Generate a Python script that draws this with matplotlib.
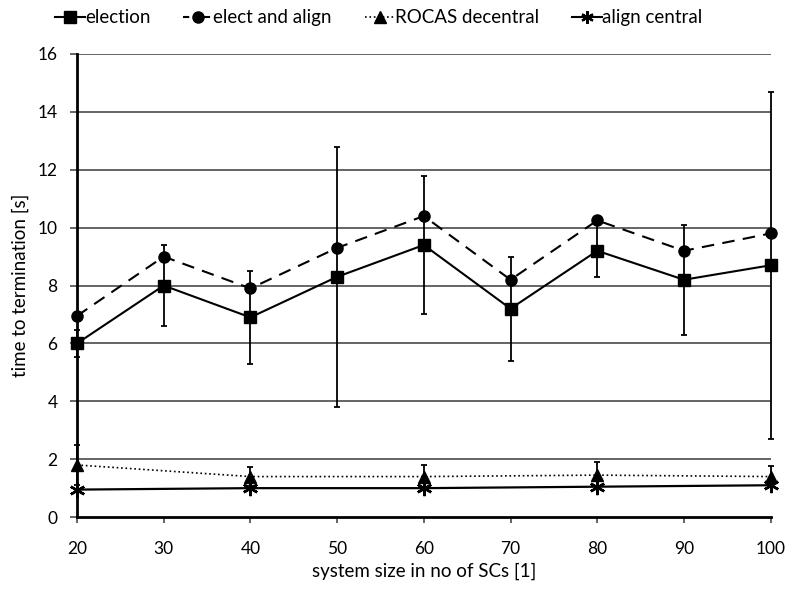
import matplotlib
matplotlib.use("Agg")
import matplotlib.pyplot as plt
from matplotlib.lines import Line2D

plt.rcParams['font.family'] = ['Lato', 'DejaVu Sans']

# system sizes
sizes = [20, 30, 40, 50, 60, 70, 80, 90, 100]
sizes_even = [20, 40, 60, 80, 100]

# mean time to termination [s]
election = [6.0, 8.0, 6.9, 8.3, 9.4, 7.2, 9.2, 8.2, 8.7]
election_err = [0.47, 1.4, 1.6, 4.5, 2.4, 1.8, 0.9, 1.9, 6.0]

elect_align = [6.95, 9.0, 7.9, 9.3, 10.4, 8.2, 10.25, 9.2, 9.8]

rocas_decentral = [1.8, 1.4, 1.4, 1.45, 1.4]
rocas_err = [0.68, 0.33, 0.39, 0.46, 0.37]

align_central = [0.95, 1.0, 1.0, 1.05, 1.1]

fig = plt.figure(figsize=(7.88, 5.93), dpi=100)
ax = fig.add_axes([0.0977, 0.128, 0.8803, 0.781])

ax.set_xlim(20, 100)
ax.set_ylim(0, 16)
ax.set_yticks(range(0, 17, 2))
ax.set_xticks(sizes)

for y in range(2, 17, 2):
    ax.axhline(y, color='#3a3a3a', lw=1.1, zorder=0.5)

lk = dict(color='black', clip_on=False)
ax.errorbar(sizes, election, yerr=election_err, fmt='none', ecolor='black',
            elinewidth=1.3, capsize=2, capthick=1.3, zorder=3, clip_on=False)
ax.errorbar(sizes_even, rocas_decentral, yerr=rocas_err, fmt='none', ecolor='black',
            elinewidth=1.3, capsize=2, capthick=1.3, zorder=3, clip_on=False)

ax.plot(sizes, election, '-', marker='s', ms=9, lw=1.5, zorder=4, **lk)
ax.plot(sizes, elect_align, '--', marker='o', ms=8, lw=1.5, dashes=(6, 4), zorder=4, **lk)
ax.plot(sizes_even, rocas_decentral, ':', marker='^', ms=8, lw=1.2, zorder=4, **lk)
ax.plot(sizes_even, align_central, '-', marker=(6, 2, 0), ms=11, mew=1.8, lw=1.6, zorder=4, **lk)

for s in ['top', 'right']:
    ax.spines[s].set_visible(False)
for s in ['left', 'bottom']:
    ax.spines[s].set_linewidth(2.0)
    ax.spines[s].set_color('black')
ax.tick_params(axis='both', direction='out', length=5, width=1.1, color='#3a3a3a',
               labelsize=12.5)
ax.tick_params(axis='y', pad=9)
ax.tick_params(axis='x', pad=13, length=4.5)

ax.set_ylabel('time to termination [s]', fontsize=13.5, labelpad=6)
ax.set_xlabel('system size in no of SCs [1]', fontsize=13.5, labelpad=4)

handles = [
    Line2D([], [], color='black', ls='-', marker='s', ms=9, lw=1.5),
    Line2D([], [], color='black', ls='--', marker='o', ms=8, lw=1.5, dashes=(3, 2)),
    Line2D([], [], color='black', ls=':', marker='^', ms=8, lw=1.2),
    Line2D([], [], color='black', ls='-', marker=(6, 2, 0), ms=9, mew=1.6, lw=1.5),
]
labels = ['election', 'elect and align', 'ROCAS decentral', 'align central']
fig.legend(handles, labels, loc='center left', bbox_to_anchor=(0.07, 0.97), ncol=4,
           frameon=False, fontsize=13.5, handlelength=1.6, handletextpad=0.0,
           columnspacing=1.75, borderaxespad=0, borderpad=0)

fig.savefig('out.png', dpi=100)
